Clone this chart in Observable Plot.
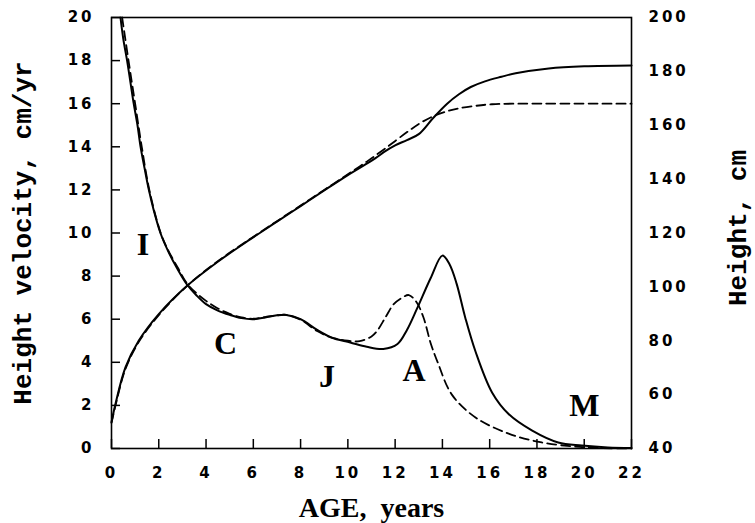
<!DOCTYPE html>
<html>
<head>
<meta charset="utf-8">
<script src="https://cdn.jsdelivr.net/npm/d3@7"></script>
<script src="https://cdn.jsdelivr.net/npm/@observablehq/plot@0.6"></script>
<style>
  html, body { margin: 0; padding: 0; background: #fff; }
  #chart svg { display: block; background: #fff; }
  g[aria-label="x-axis tick label"] text,
  g[aria-label="y-axis tick label"] text { letter-spacing: 3px; }
</style>
</head>
<body>
<div id="chart"></div>
<script>
// ---- data ----
const xTicks = [0, 2, 4, 6, 8, 10, 12, 14, 16, 18, 20, 22];
const yTicks = [0, 2, 4, 6, 8, 10, 12, 14, 16, 18, 20];
const hTicks = [40, 60, 80, 100, 120, 140, 160, 180, 200];

const xLabel = "AGE,\u00a0\u00a0years";
const yLabel = "Height velocity, cm/yr";
const hLabel = "Height, cm";

// velocity, solid curve
const velSolidAge = [0.38, 0.5, 0.66, 0.8, 0.94, 1.1, 1.23, 1.4, 1.58, 1.8, 2.07, 2.4, 2.78, 3.2, 3.6, 4.0, 4.5, 5.0, 5.5, 6.0, 6.5, 7.0, 7.4, 8.0, 8.7, 9.3, 10.1, 10.8, 11.5, 12.1, 12.5, 12.93, 13.5, 14.0, 14.3, 14.6, 14.97, 15.4, 16.1, 16.8, 17.8, 18.9, 19.9, 21.0, 22.0];
const velSolid    = [20, 19.0, 18, 17.0, 16, 15.0, 14, 13, 12, 11, 10, 9.15, 8.35, 7.6, 7.1, 6.7, 6.4, 6.2, 6.05, 6.0, 6.08, 6.18, 6.2, 6.0, 5.5, 5.15, 4.92, 4.72, 4.62, 4.85, 5.5, 6.5, 7.9, 8.95, 8.55, 7.65, 6.06, 4.5, 2.6, 1.6, 0.83, 0.28, 0.14, 0.05, 0.02];

// velocity, dashed curve
const velDashAge = [0.45, 0.72, 1.0, 1.28, 1.6, 2.08, 2.42, 2.8, 3.2, 3.6, 4.0, 4.5, 5.0, 5.5, 6.0, 6.5, 7.0, 7.4, 8.0, 8.7, 9.3, 10.0, 10.5, 11.0, 11.24, 11.6, 11.94, 12.3, 12.58, 12.9, 13.2, 13.5, 13.8, 14.4, 15.4, 16.8, 18.2, 19.5, 20.5, 22.0];
const velDash    = [20, 18, 16, 14, 12, 10, 9.15, 8.4, 7.65, 7.2, 6.85, 6.5, 6.25, 6.08, 6.02, 6.1, 6.18, 6.2, 5.98, 5.45, 5.15, 5.0, 4.98, 5.2, 5.46, 6.1, 6.7, 7.0, 7.12, 6.8, 6.08, 4.9, 4.0, 2.5, 1.44, 0.69, 0.28, 0.1, 0.03, 0.0];

// height (cm), solid curve
const hSolidAge = [0, 0.17, 0.59, 1.15, 2.0, 3.2, 4.54, 5.88, 7, 8, 9, 10, 11.17, 11.52, 12, 12.5, 13.0, 13.6, 14.2, 14.7, 15.2, 15.8, 16.5, 17.1, 18.5, 20, 22];
const hSolid    = [49.8, 56.6, 70.1, 80, 89.9, 100.4, 109.6, 117.7, 124.2, 130, 135.8, 141.5, 147.8, 150, 152.5, 154.5, 156.7, 162.6, 168, 171.5, 174.2, 176.3, 178, 179.3, 181.1, 181.9, 182.2];

// height (cm), dashed curve
const hDashAge = [0, 0.17, 0.59, 1.15, 2.0, 3.2, 4.54, 5.88, 7, 8, 9, 10, 10.8, 11.6, 12.56, 13.1, 13.6, 14.2, 14.7, 15.4, 16.1, 17, 22];
const hDash    = [49.5, 56, 69.5, 79.5, 89.5, 100.4, 109.8, 117.9, 124.4, 130.2, 136, 141.8, 146.5, 151.5, 157.8, 161, 163.3, 165.2, 166.3, 167.2, 167.8, 168, 168];

// stage letters
const letters   = ["I", "C", "J", "A", "M"];
const letterAge = [1.33, 4.82, 9.12, 12.8, 20.0];
const letterVel = [9.44, 4.88, 3.33, 3.61, 1.97];

// ---- secondary axis mapping: height 40..200 onto velocity 0..20 ----
const hToV = d3.scaleLinear().domain([40, 200]).range([0, 20]);

const tickFont = {fontFamily: "DejaVu Sans", fontWeight: "bold", fontSize: 15};
const dash = "9,5";

const chart = Plot.plot({
  width: 755,
  height: 523,
  marginLeft: 111,
  marginRight: 124,
  marginTop: 17,
  marginBottom: 75,
  style: {background: "#fff", color: "#000"},
  x: {domain: [0, 22]},
  y: {domain: [0, 20]},
  marks: [
    Plot.axisX(xTicks, {tickSize: -9, tickPadding: 28, strokeWidth: 1.5, label: null, tickFormat: d => String(d), ...tickFont}),
    Plot.axisY(yTicks, {tickSize: -9, tickPadding: 26, strokeWidth: 1.5, label: null, tickFormat: d => String(d), ...tickFont}),
    Plot.axisY(hTicks, {anchor: "right", y: d => hToV(d), tickSize: 0, tickPadding: 17, label: null, tickFormat: d => String(d), ...tickFont}),
    Plot.frame({stroke: "#000", strokeWidth: 1.6}),
    Plot.line(velSolidAge, {x: velSolidAge, y: velSolid, stroke: "#000", strokeWidth: 2, curve: "catmull-rom"}),
    Plot.line(velDashAge, {x: velDashAge, y: velDash, stroke: "#000", strokeWidth: 1.8, strokeDasharray: dash, curve: "catmull-rom"}),
    Plot.line(hSolidAge, {x: hSolidAge, y: hSolid.map(hToV), stroke: "#000", strokeWidth: 2, curve: "catmull-rom"}),
    Plot.line(hDashAge, {x: hDashAge, y: hDash.map(hToV), stroke: "#000", strokeWidth: 1.8, strokeDasharray: dash, curve: "catmull-rom"}),
    Plot.text(letters, {x: letterAge, y: letterVel, text: letters, fontFamily: "Liberation Serif", fontWeight: "bold", fontSize: 32, fill: "#000"}),
    Plot.text([yLabel], {frameAnchor: "left", textAnchor: "middle", dx: -89, rotate: -90, fontFamily: "Liberation Mono", fontWeight: "bold", fontSize: 26, fill: "#000"}),
    Plot.text([hLabel], {frameAnchor: "right", textAnchor: "middle", dx: 106, dy: -5, rotate: -90, fontFamily: "Liberation Mono", fontWeight: "bold", fontSize: 26, fill: "#000"}),
    Plot.text([xLabel], {frameAnchor: "bottom", dy: 68, fontFamily: "Liberation Serif", fontWeight: "bold", fontSize: 28, fill: "#000"})
  ]
});
document.getElementById("chart").appendChild(chart);
</script>
</body>
</html>
